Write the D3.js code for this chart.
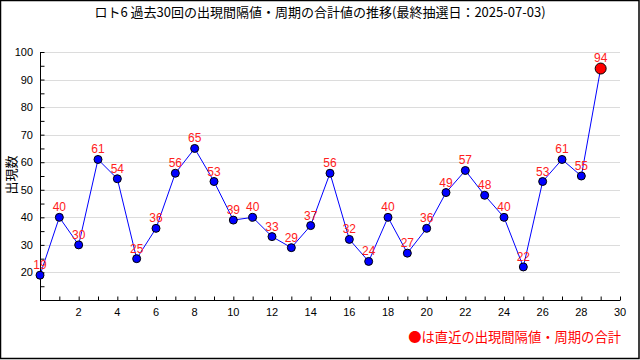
<!DOCTYPE html>
<html><head><meta charset="utf-8">
<script src="https://cdn.jsdelivr.net/npm/d3@7/dist/d3.min.js"></script>
<style>body{margin:0;background:#fff}svg{display:block}</style>
</head><body>
<svg id="c" width="640" height="360"></svg>
<script>
const titleText = "ロト6 過去30回の出現間隔値・周期の合計値の推移(最終抽選日：2025-07-03)";
const yTitle = "出現数";
const legendText = "●は直近の出現間隔値・周期の合計";
const draws = d3.range(0, 30);
const values = [19,40,30,61,54,25,36,56,65,53,39,40,33,29,37,56,32,24,40,27,36,49,57,48,40,22,53,61,55,94];
const xTickLabels = [2,4,6,8,10,12,14,16,18,20,22,24,26,28,30];
const yTickLabels = [20,30,40,50,60,70,80,90,100];

const svg = d3.select("#c");
const jp = "'Noto Sans CJK JP', sans-serif";
const sans = "'Liberation Sans', Arial, sans-serif";

// frame
svg.append("rect").attr("x",0.5).attr("y",0.5).attr("width",638.5).attr("height",358)
  .attr("fill","none").attr("stroke","#000").attr("stroke-width",1.5);

const x = d3.scaleLinear().domain([0,30]).range([40,620]);
const y = d3.scaleLinear().domain([10,100]).range([300,52]);

// grid
svg.append("g").selectAll("line").data(yTickLabels).join("line")
  .attr("x1",40).attr("x2",620).attr("y1",d=>Math.round(y(d))+0.5).attr("y2",d=>Math.round(y(d))+0.5)
  .attr("stroke","#dcdcdc").attr("stroke-width",1);

// y axis
const yAxis = d3.axisRight(y).tickValues(d3.range(10,101,5)).tickSize(4).tickFormat("");
const gy = svg.append("g").attr("transform","translate(40.5,0)").call(yAxis);
gy.select(".domain").attr("d","M0,"+y(100)+"V"+y(10));
gy.selectAll("line").attr("stroke","#000");
svg.append("g").selectAll("text").data(yTickLabels).join("text")
  .attr("x",33).attr("y",d=>y(d)+4).attr("text-anchor","end")
  .attr("font-family",sans).attr("font-size",11).text(d=>d);

// x axis
const xAxis = d3.axisTop(x).tickValues(d3.range(0,31,1)).tickSize(4).tickFormat("");
const gx = svg.append("g").attr("transform","translate(0,300.5)").call(xAxis);
gx.select(".domain").attr("d","M"+x(0)+",0H"+x(30));
gx.selectAll("line").attr("stroke","#000");
svg.append("g").selectAll("text").data(xTickLabels).join("text")
  .attr("x",d=>x(d)).attr("y",316).attr("text-anchor","middle")
  .attr("font-family",sans).attr("font-size",11).text(d=>d);

// line
const line = d3.line().x((d,i)=>x(draws[i])).y(d=>y(d));
svg.append("path").datum(values).attr("d",line).attr("fill","none")
  .attr("stroke","#0000ff").attr("stroke-width",1);

// points
svg.append("g").selectAll("circle").data(values).join("circle")
  .attr("cx",(d,i)=>x(draws[i])).attr("cy",d=>y(d))
  .attr("r",(d,i)=>i===values.length-1?5.5:4)
  .attr("fill",(d,i)=>i===values.length-1?"#ff0000":"#0000ff")
  .attr("stroke","#000").attr("stroke-width",1);

// labels
svg.append("g").selectAll("text").data(values).join("text")
  .attr("x",(d,i)=>x(draws[i])).attr("y",(d,i)=>y(d)-(i===values.length-1?7:6))
  .attr("text-anchor","middle").attr("font-family",sans).attr("font-size",12)
  .attr("fill","#ff2020").text(d=>d);

// title
svg.append("text").attr("x",320).attr("y",17).attr("text-anchor","middle")
  .attr("font-family",jp).attr("font-size",13).attr("fill","#000").text(titleText);

// y title
svg.append("text").attr("transform","translate(16,175) rotate(-90)").attr("text-anchor","middle")
  .attr("font-family",jp).attr("font-size",13).text(yTitle);

// legend
svg.append("text").attr("x",621).attr("y",342).attr("text-anchor","end")
  .attr("font-family",jp).attr("font-size",13.3).attr("fill","#ff0000").text(legendText);
</script>
</body></html>
